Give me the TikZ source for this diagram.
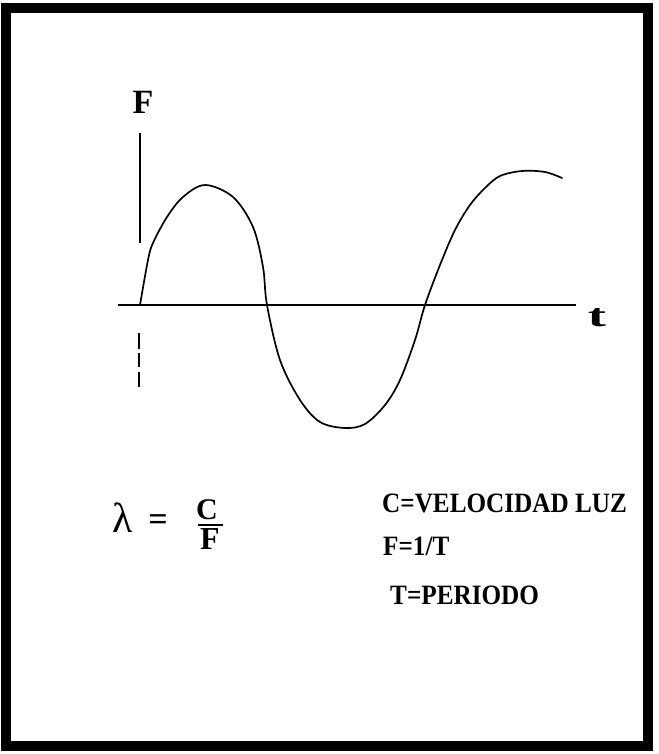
\documentclass[tikz,border=0pt]{standalone}
\usepackage{fontspec}
\setmainfont{Liberation Serif}
\usetikzlibrary{positioning}

\newcommand{\narrowtxt}[1]{\scalebox{0.9}[1]{#1}}

\begin{document}
\begin{tikzpicture}[x=1pt,y=-1pt,
    txt/.style={font=\bfseries\fontsize{28}{30}\selectfont, inner sep=0pt},
    axis/.style={line width=1.2pt},
    wave/.style={line width=1.7pt, line cap=round, line join=round}]

\useasboundingbox (0,0) rectangle (658,754);

% -------------------------
% Marco
% -------------------------
\draw[line width=10pt] (6,8) rectangle (648,746);

% -------------------------
% Ejes
% -------------------------
\draw[axis] (118,305) -- (576,305);
\draw[axis] (140,133) -- (140,243);
\draw[axis, dash pattern=on 16pt off 4pt on 14pt off 5pt] (139,333) -- (139,387);
\node[txt, font=\bfseries\fontsize{34}{34}\selectfont] (flabel) at (143,102) {F};
\node[txt, font=\bfseries\fontsize{32}{32}\selectfont] (tlabel) at (597,318) {\scalebox{1.7}[1]{t}};

% -------------------------
% Onda
% -------------------------
\draw[wave] plot[smooth, tension=0.55] coordinates {
    (140,305) (148,260) (153,243) (167,217) (183,197) (205,185)
    (233,197) (253,227) (263,267) (267,305)
    (280,360) (300,400) (320,422) (345,428) (365,424) (385,405)
    (400,380) (415,340) (425,305) (440,265) (455,230) (470,205)
    (485,188) (500,176) (522,171) (545,172) (562,178)};

% -------------------------
% Formula
% -------------------------
\node[inner sep=0pt, font=\fontsize{42}{42}\selectfont] (lambda) at (123,518) {λ};
\node[txt, font=\bfseries\fontsize{34}{34}\selectfont] (eq) at (158,523) {=};
\node[txt, font=\bfseries\fontsize{30}{30}\selectfont] (cnum) at (207,510) {C};
\node[txt, font=\bfseries\fontsize{32}{32}\selectfont] (fden) at (210,539) {F};
\coordinate (barl) at (198,525);
\coordinate (barr) at (223,525);
\draw[line width=1.8pt] (barl) -- (barr);

% -------------------------
% Leyenda
% -------------------------
\node[txt, anchor=west] (vel) at (382,503) {\narrowtxt{C=VELOCIDAD LUZ}};
\node[txt, anchor=west] (freq) at (383,546) {\narrowtxt{F=1/T}};
\node[txt, anchor=west] (per) at (390,595) {\narrowtxt{T=PERIODO}};

\end{tikzpicture}
\end{document}
